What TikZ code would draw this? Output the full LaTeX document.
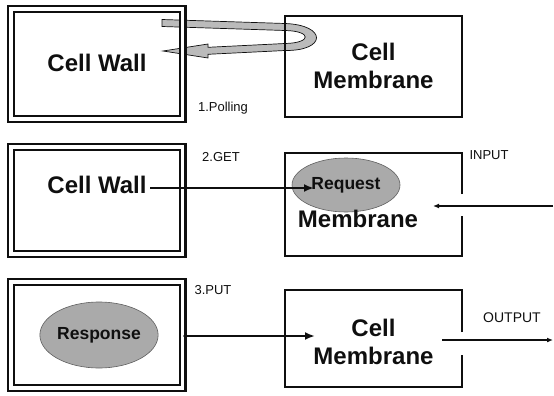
\documentclass[tikz,border=0pt]{standalone}
\usepackage{fontspec}
\setmainfont{Liberation Sans}
\usetikzlibrary{
  arrows.meta,
  positioning,
  shapes.geometric,
  calc
}
\definecolor{ink}{RGB}{15,15,15}
\definecolor{dotgray}{RGB}{170,170,170}
\definecolor{rimgray}{RGB}{95,95,95}
\newcommand{\bigtxt}{\fontsize{24}{28}\selectfont\bfseries}
\newcommand{\midtxt}{\fontsize{17.5}{20}\selectfont\bfseries}
\newcommand{\smalltxt}{\fontsize{13}{15}\selectfont}
\tikzset{
  wallbox/.style={draw=ink,line width=2.3pt,double=white,double distance=3.4pt,inner sep=0pt},
  membox/.style={inner sep=0pt},
  memline/.style={draw=ink,line width=2.5pt},
  blob/.style={ellipse,fill=dotgray,draw=rimgray,line width=0.6pt,inner sep=0pt,text=ink,font=\midtxt},
  bigtag/.style={font=\bigtxt,text=ink,align=center},
  tag/.style={font=\smalltxt,text=ink},
  flow/.style={draw=ink,line width=2pt,-{Latex[length=10pt,width=8pt]}},
  thinflow/.style={draw=ink,line width=1.6pt,-{Latex[length=6pt,width=5pt]}}
}

\begin{document}
\begin{tikzpicture}[x=1pt,y=-1pt]
  \useasboundingbox (0,0) rectangle (554,396);

  \filldraw[fill=dotgray!80,draw=ink,line width=0.7pt]
    (162,19.5) -- (285,23.5) .. controls (327,25) and (327,51) .. (285,50.5)
    -- (208,54.3) -- (208,58) -- (163,51) -- (208,44) -- (208,47.3)
    -- (285,43.5) .. controls (312,43) and (312,31) .. (285,30.5)
    -- (162,26.5) -- cycle;

  \node[wallbox,minimum width=171.5pt,minimum height=110pt] (wall1) at (96.75,64) {};
  \node[wallbox,minimum width=171.5pt,minimum height=107pt] (wall2) at (96.75,200.5) {};
  \node[wallbox,minimum width=171.5pt,minimum height=106pt] (wall3) at (96.75,335) {};

  \node[membox,memline,minimum width=177pt,minimum height=101pt] (mem1) at (373.5,66.5) {};
  \node[membox,minimum width=177pt,minimum height=103pt] (mem2) at (373.5,204.5) {};
  \node[membox,minimum width=177pt,minimum height=97pt] (mem3) at (373.5,338.5) {};

  \coordinate (in2) at (553,206);
  \coordinate (inend) at (433,206);
  \draw[memline] ($(mem2.east |- in2)+(0,-12)$) -- (mem2.north east) -- (mem2.north west)
    -- (mem2.south west) -- (mem2.south east) -- ($(mem2.east |- in2)+(0,10)$);
  \coordinate (out3) at (442,340);
  \coordinate (outend) at (553,340);
  \draw[memline] ($(mem3.east |- out3)+(0,-8)$) -- (mem3.north east) -- (mem3.north west)
    -- (mem3.south west) -- (mem3.south east) -- ($(mem3.east |- out3)+(0,15)$);

  \node[blob,minimum width=108pt,minimum height=54pt] (req) at (346,185) {Request};
  \node[blob,minimum width=114pt,minimum height=66pt] (resp) at (99,335) {Response};

  \node[bigtag] (cw1) at (97,63) {Cell Wall};
  \node[bigtag] (cm1) at (373.5,66) {Cell\\Membrane};
  \node[bigtag] (cw2) at (97,185) {Cell Wall};
  \node[bigtag] (cm2) at (358,219) {Membrane};
  \node[bigtag] (cm3) at (373.5,342) {Cell\\Membrane};

  \node[tag] (poll) at (223,108) {1.Polling};
  \node[tag] (get) at (221,157) {2.GET};
  \node[tag] (inp) at (489,155) {INPUT};
  \node[tag] (put) at (213,290) {3.PUT};
  \node[tag,font=\fontsize{14}{16}\selectfont] (outp) at (512,318) {OUTPUT};

  \coordinate (getend) at (314,188);
  \draw[flow] (cw2.east |- getend) -- (getend);
  \draw[thinflow] (in2) -- (inend);
  \coordinate (putend) at (315,336);
  \draw[flow,{Circle[length=4pt]}-{Latex[length=10pt,width=8pt]}] (wall3.east |- putend) -- (putend);
  \draw[thinflow] (out3) -- (outend);
\end{tikzpicture}
\end{document}
